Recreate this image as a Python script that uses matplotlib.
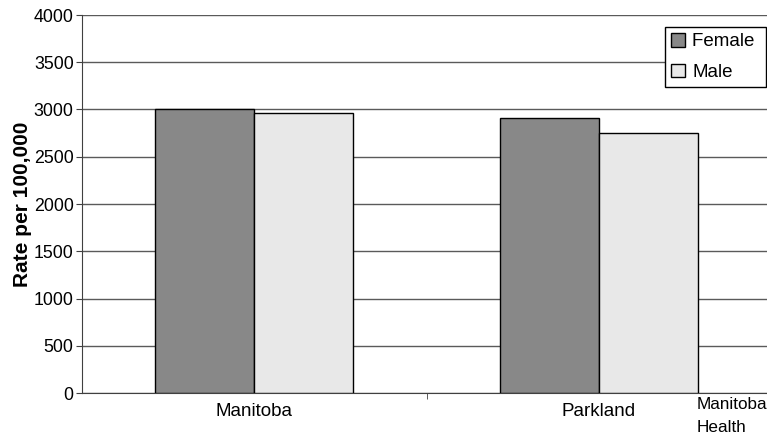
import matplotlib.pyplot as plt
import numpy as np

plt.rc('font', family=['Liberation Sans', 'DejaVu Sans'])

regions = ['Manitoba', 'Parkland']
female = [3010, 2915]
male = [2968, 2750]
y_ticks = np.arange(0, 4001, 500)

fig = plt.figure(figsize=(7.67, 4.36), dpi=100)
ax = fig.add_axes([82 / 767, 43 / 436, 689 / 767, 378 / 436])

x = np.arange(len(regions))
width = 0.287
ax.bar(x - width / 2, female, width, color='#888888', edgecolor='black', linewidth=1,
       label='Female ', zorder=3)
ax.bar(x + width / 2, male, width, color='#e8e8e8', edgecolor='black', linewidth=1,
       label='Male', zorder=3)

ax.set_xlim(-0.5, 1.5)
ax.set_ylim(0, 4000)
ax.set_yticks(y_ticks)
ax.set_yticklabels([str(v) for v in y_ticks], fontsize=12.8)
ax.yaxis.grid(True, color='#5a5a5a', linewidth=1)
ax.set_axisbelow(True)

ax.set_xticks(x)
ax.set_xticklabels(regions, fontsize=13.5)
ax.tick_params(axis='x', length=0, pad=7)
ax.set_xticks([0.5], minor=True)
ax.tick_params(axis='x', which='minor', length=4, color='#404040')
ax.tick_params(axis='y', length=4, color='#404040', pad=2)

ax.spines['top'].set_visible(False)
ax.spines['right'].set_visible(False)
ax.spines['left'].set_color('#404040')
ax.spines['bottom'].set_color('#404040')

ax.set_ylabel('Rate per 100,000', fontsize=15, fontweight='bold', labelpad=1)

leg = ax.legend(loc='upper right', bbox_to_anchor=(766 / 767, 1 - 27 / 436), bbox_transform=fig.transFigure,
                fontsize=13.5, frameon=True, fancybox=False, edgecolor='black',
                handlelength=0.75, handleheight=0.75, handletextpad=0.37,
                borderpad=0.32, labelspacing=0.7, borderaxespad=0)
leg.get_frame().set_linewidth(1)
leg.get_frame().set_alpha(1)

fig.text(697 / 767, 1 - 397 / 436, 'Manitoba\nHealth', fontsize=12.3, va='top', ha='left',
         linespacing=1.7)

fig.savefig('out.png', dpi=100)
